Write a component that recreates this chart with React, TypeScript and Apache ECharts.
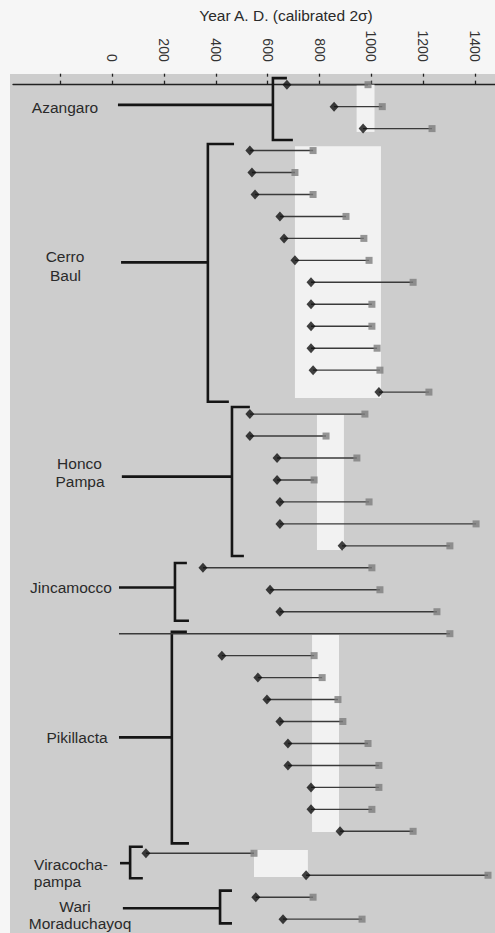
import React, { useEffect, useRef } from "react";
import * as echarts from "echarts";

// ---- data ----
const sites = ["Azangaro", "Cerro Baul", "Honco Pampa", "Jincamocco", "Pikillacta", "Viracochapampa", "Wari Moraduchayoq"];
const siteRowCounts = [3, 12, 7, 3, 10, 2, 2];

const startYears = [
  674, 856, 968,
  531, 539, 551, 647, 663, 705, 767, 767, 767, 767, 775, 1029,
  531, 531, 636, 636, 647, 647, 887,
  350, 609, 647,
  26, 423, 562, 597, 647, 678, 678, 767, 767, 879,
  130, 748,
  554, 659,
];
const endYears = [
  987, 1042, 1234,
  775, 705, 775, 902, 971, 991, 1161, 1002, 1002, 1022, 1033, 1222,
  975, 825, 944, 779, 991, 1404, 1303,
  1002, 1033, 1253,
  1303, 779, 810, 871, 890, 987, 1029, 1029, 1002, 1161,
  547, 1450,
  775, 964,
];
const openStartRows = [25];

const shadeFrom = [943, 705, 790, 771, 547];
const shadeTo = [1012, 1037, 894, 875, 755];
const shadeTopRow = [0.0, 2.8, 15.04, 25.06, 34.85];
const shadeBottomRow = [2.15, 14.27, 21.19, 34.03, 36.08];

const bracketX = [620, 369, 462, 242, 230, 69, 416];
const bracketCapTop = [674, 470, 531, 288, 288, 118, 462];
const bracketCapBottom = [697, 450, 508, 296, 296, 118, 462];
const bracketTopRow = [-0.3, 2.7, 14.68, 21.78, 24.91, 34.7, 36.7];
const bracketBottomRow = [2.52, 14.44, 21.46, 24.41, 34.55, 36.14, 38.19];
const stemRow = [0.92, 8.09, 17.85, 22.9, 29.72, 35.45, 37.5];
const stemStart = [22, 34, 37, 26, 26, 30, 41];

const labelLines = ["Azangaro", "Cerro", "Baul", "Honco", "Pampa", "Jincamocco", "Pikillacta", "Viracocha-", "pampa", "Wari", "Moraduchayoq"];
const labelRows = [1.02, 7.83, 8.71, 17.27, 18.08, 22.9, 29.72, 35.53, 36.29, 37.43, 38.2];

const tickValues = [-200, 0, 200, 400, 600, 800, 1000, 1200, 1400];
const tickLabels = [0, 200, 400, 600, 800, 1000, 1200, 1400];
const axisTitle = "Year A. D. (calibrated 2σ)";

// ---- layout (pixels) ----
const labelCenterX = [65, 65, 65.5, 79.5, 80, 71, 77, 71, 57.5, 75, 80];
const FONT = "Liberation Sans, Arial, Helvetica, sans-serif";

export default function App() {
  const ref = useRef<HTMLDivElement>(null);

  useEffect(() => {
    if (!ref.current) return;
    const chart = echarts.init(ref.current, null, { renderer: "svg" });
    const nRows = startYears.length;

    const rangeData = startYears.map((s, i) => [s, endYears[i], i]);
    const diamondData = startYears
      .map((s, i) => [s, i])
      .filter((_, i) => openStartRows.indexOf(i) < 0);
    const squareData = endYears.map((e, i) => [e, i]);
    const shadeData = shadeFrom.map((f, i) => [f, shadeTo[i], shadeTopRow[i], shadeBottomRow[i]]);
    const bracketData = bracketX.map((x, i) => [
      x, bracketCapTop[i], bracketCapBottom[i], bracketTopRow[i], bracketBottomRow[i], stemRow[i], stemStart[i],
    ]);
    const labelData = labelLines.map((t, i) => [0, labelRows[i], i]);

    const option: any = {
      animation: false,
      backgroundColor: "#f6f6f6",
      graphic: {
        elements: [
          {
            type: "rect",
            left: 10,
            top: 74,
            z: -10,
            shape: { width: 485, height: 859 },
            style: { fill: "#cdcdcd" },
          },
          {
            type: "text",
            x: 286,
            y: 15,
            style: {
              text: axisTitle,
              textAlign: "center",
              textVerticalAlign: "middle",
              font: `15.5px ${FONT}`,
              fill: "#2a2a2a",
            },
          },
        ],
      },
      grid: { left: 13, right: 0, top: 73.7, bottom: 2.86, containLabel: false },
      xAxis: [
        {
          type: "value",
          position: "top",
          min: -383,
          max: 1477,
          axisLine: { show: true, lineStyle: { color: "#222", width: 1.3 } },
          axisTick: { show: true, length: 4, customValues: tickValues, lineStyle: { color: "#222", width: 1.3 } },
          axisLabel: {
            show: true,
            rotate: -90,
            margin: 12,
            customValues: tickLabels,
            formatter: (v: number) => String(v),
            color: "#333",
            fontSize: 14,
            fontFamily: FONT,
          },
          splitLine: { show: false },
        },
        {
          type: "value",
          position: "top",
          min: -383,
          max: 1477,
          axisLine: { show: false },
          axisTick: { show: true, inside: true, length: 3, customValues: tickValues, lineStyle: { color: "#222", width: 1.3 } },
          axisLabel: { show: false },
          splitLine: { show: false },
        },
      ],
      yAxis: {
        type: "value",
        min: -0.5,
        max: nRows - 0.5,
        inverse: true,
        show: false,
        splitLine: { show: false },
      },
      series: [
        {
          type: "custom",
          name: "shade",
          z: 1,
          silent: true,
          clip: false,
          encode: { x: [0, 1], y: [2, 3] },
          data: shadeData,
          renderItem: (params: any, api: any) => {
            const p0 = api.coord([api.value(0), api.value(2)]);
            const p1 = api.coord([api.value(1), api.value(3)]);
            return {
              type: "rect",
              shape: { x: p0[0], y: p0[1], width: p1[0] - p0[0], height: p1[1] - p0[1] },
              style: { fill: "#f2f2f2" },
            };
          },
        },
        {
          type: "custom",
          name: "brackets",
          z: 2,
          silent: true,
          clip: false,
          encode: { x: [0, 1, 2, 6], y: [3, 4, 5] },
          data: bracketData,
          renderItem: (params: any, api: any) => {
            const x = api.value(0);
            const top = api.value(3);
            const bot = api.value(4);
            const a = api.coord([api.value(1), top]);
            const b = api.coord([x, top]);
            const c = api.coord([x, bot]);
            const d = api.coord([api.value(2), bot]);
            const s0 = api.coord([api.value(6), api.value(5)]);
            const s1 = api.coord([x, api.value(5)]);
            return {
              type: "group",
              children: [
                {
                  type: "polyline",
                  shape: { points: [a, b, c, d] },
                  style: { stroke: "#151515", lineWidth: 2.6, fill: null, lineJoin: "miter" },
                },
                {
                  type: "line",
                  shape: { x1: s0[0], y1: s0[1], x2: s1[0], y2: s1[1] },
                  style: { stroke: "#151515", lineWidth: 2.6 },
                },
              ],
            };
          },
        },
        {
          type: "custom",
          name: "ranges",
          z: 3,
          silent: true,
          clip: false,
          encode: { x: [0, 1], y: 2 },
          data: rangeData,
          renderItem: (params: any, api: any) => {
            const p0 = api.coord([api.value(0), api.value(2)]);
            const p1 = api.coord([api.value(1), api.value(2)]);
            return {
              type: "line",
              shape: { x1: p0[0], y1: p0[1], x2: p1[0], y2: p1[1] },
              style: { stroke: "#3a3a3a", lineWidth: 1.4 },
            };
          },
        },
        {
          type: "scatter",
          name: "end",
          z: 4,
          silent: true,
          symbol: "rect",
          symbolSize: [7, 7],
          itemStyle: { color: "#7d7d7d" },
          data: squareData,
        },
        {
          type: "scatter",
          name: "start",
          z: 5,
          silent: true,
          symbol: "diamond",
          symbolSize: [9, 10],
          itemStyle: { color: "#111" },
          data: diamondData,
        },
        {
          type: "custom",
          name: "labels",
          z: 6,
          silent: true,
          clip: false,
          encode: { y: 1 },
          data: labelData,
          renderItem: (params: any, api: any) => {
            const i = api.value(2);
            const p = api.coord([0, api.value(1)]);
            return {
              type: "text",
              x: labelCenterX[i],
              y: p[1],
              style: {
                text: labelLines[i],
                textAlign: "center",
                textVerticalAlign: "middle",
                font: `15.5px ${FONT}`,
                fill: "#2a2a2a",
              },
            };
          },
        },
      ],
    };

    chart.setOption(option);
    return () => chart.dispose();
  }, []);

  return (
    <div
      ref={ref}
      style={{ position: "fixed", left: 0, top: 0, width: 495, height: 933 }}
      data-sites={sites.join("|")}
      data-rows={siteRowCounts.join(",")}
    />
  );
}
